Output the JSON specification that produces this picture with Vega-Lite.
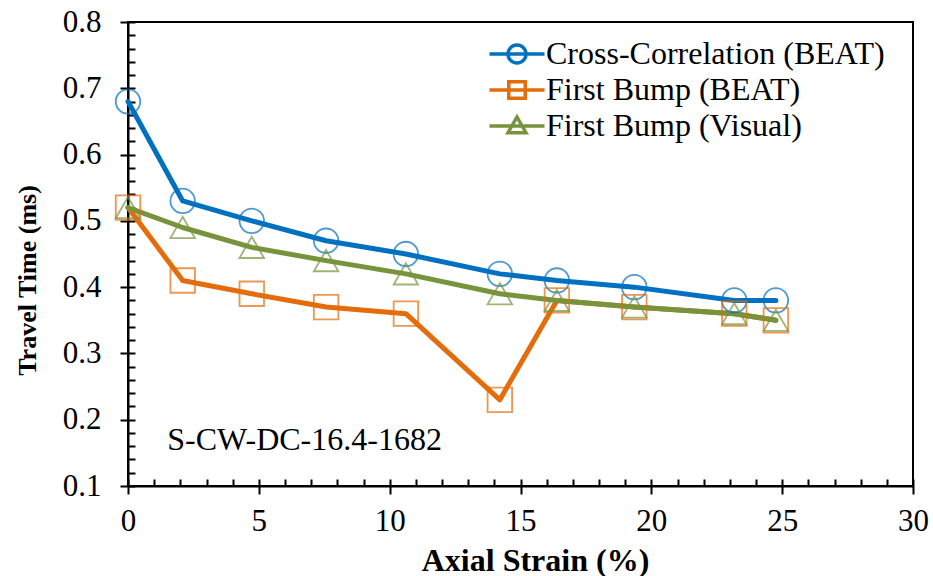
{
  "$schema": "https://vega.github.io/schema/vega-lite/v6.json",
  "width": 785,
  "height": 464,
  "autosize": "none",
  "padding": {"left": 128, "top": 22, "right": 20, "bottom": 90},
  "background": "white",
  "config": {
    "view": {"stroke": "#000000", "strokeWidth": 2},
    "font": "Liberation Serif"
  },
  "data": {
    "values": [
      {"strain": 0, "time": 0.68, "series": "Cross-Correlation (BEAT)"},
      {"strain": 2.09, "time": 0.53, "series": "Cross-Correlation (BEAT)"},
      {"strain": 4.73, "time": 0.50, "series": "Cross-Correlation (BEAT)"},
      {"strain": 7.57, "time": 0.47, "series": "Cross-Correlation (BEAT)"},
      {"strain": 10.62, "time": 0.45, "series": "Cross-Correlation (BEAT)"},
      {"strain": 14.21, "time": 0.42, "series": "Cross-Correlation (BEAT)"},
      {"strain": 16.39, "time": 0.41, "series": "Cross-Correlation (BEAT)"},
      {"strain": 19.35, "time": 0.40, "series": "Cross-Correlation (BEAT)"},
      {"strain": 23.17, "time": 0.38, "series": "Cross-Correlation (BEAT)"},
      {"strain": 24.76, "time": 0.38, "series": "Cross-Correlation (BEAT)"},
      {"strain": 0, "time": 0.52, "series": "First Bump (BEAT)"},
      {"strain": 2.09, "time": 0.41, "series": "First Bump (BEAT)"},
      {"strain": 4.73, "time": 0.39, "series": "First Bump (BEAT)"},
      {"strain": 7.57, "time": 0.37, "series": "First Bump (BEAT)"},
      {"strain": 10.62, "time": 0.36, "series": "First Bump (BEAT)"},
      {"strain": 14.21, "time": 0.23, "series": "First Bump (BEAT)"},
      {"strain": 16.39, "time": 0.38, "series": "First Bump (BEAT)"},
      {"strain": 19.35, "time": 0.37, "series": "First Bump (BEAT)"},
      {"strain": 23.17, "time": 0.36, "series": "First Bump (BEAT)"},
      {"strain": 24.76, "time": 0.35, "series": "First Bump (BEAT)"},
      {"strain": 0, "time": 0.52, "series": "First Bump (Visual)"},
      {"strain": 2.09, "time": 0.49, "series": "First Bump (Visual)"},
      {"strain": 4.73, "time": 0.46, "series": "First Bump (Visual)"},
      {"strain": 7.57, "time": 0.44, "series": "First Bump (Visual)"},
      {"strain": 10.62, "time": 0.42, "series": "First Bump (Visual)"},
      {"strain": 14.21, "time": 0.39, "series": "First Bump (Visual)"},
      {"strain": 16.39, "time": 0.38, "series": "First Bump (Visual)"},
      {"strain": 19.35, "time": 0.37, "series": "First Bump (Visual)"},
      {"strain": 23.17, "time": 0.36, "series": "First Bump (Visual)"},
      {"strain": 24.76, "time": 0.35, "series": "First Bump (Visual)"}
    ]
  },
  "resolve": {"axis": {"x": "independent", "y": "independent"}},
  "layer": [
    {
      "mark": {"type": "line", "strokeWidth": 5, "strokeCap": "round", "strokeJoin": "round"},
      "encoding": {
        "x": {
          "field": "strain", "type": "quantitative",
          "scale": {"domain": [0, 30], "nice": false, "zero": false},
          "axis": {
            "orient": "bottom", "values": [0, 5, 10, 15, 20, 25, 30], "format": "d",
            "labelFlush": false, "labelOverlap": false,
            "grid": false, "domain": true, "domainColor": "#000", "domainWidth": 2,
            "ticks": true, "tickSize": 8, "tickColor": "#000", "tickWidth": 2,
            "labelFont": "Liberation Serif", "labelFontSize": 31, "labelColor": "#000", "labelPadding": 12,
            "title": "Axial Strain (%)", "titleFont": "Liberation Serif", "titleFontSize": 32, "titleFontWeight": "bold", "titleColor": "#000",
            "titleX": 407, "titleY": 74, "titleAlign": "center", "titleBaseline": "middle"
          }
        },
        "y": {
          "field": "time", "type": "quantitative",
          "scale": {"domain": [0.1, 0.8], "nice": false, "zero": false},
          "axis": {
            "orient": "left", "values": [0.1, 0.2, 0.3, 0.4, 0.5, 0.6, 0.7, 0.8], "format": ".1f",
            "labelFlush": false, "labelOverlap": false,
            "grid": false, "domain": true, "domainColor": "#000", "domainWidth": 2,
            "ticks": true, "tickSize": 8, "tickColor": "#000", "tickWidth": 2,
            "labelFont": "Liberation Serif", "labelFontSize": 31, "labelColor": "#000", "labelPadding": 19,
            "title": "Travel Time (ms)", "titleFont": "Liberation Serif", "titleFontSize": 26, "titleFontWeight": "bold", "titleColor": "#000",
            "titleX": -101, "titleY": 258, "titleAlign": "center", "titleBaseline": "middle", "titleAngle": -90
          }
        },
        "color": {
          "field": "series", "type": "nominal",
          "scale": {"domain": ["Cross-Correlation (BEAT)", "First Bump (BEAT)", "First Bump (Visual)"], "range": ["#0070C0", "#E46C0A", "#77933C"]},
          "legend": {
            "title": null, "orient": "none", "legendX": 373, "legendY": 16,
            "labelFont": "Liberation Serif", "labelFontSize": 32, "labelColor": "#000", "labelOffset": 13, "labelLimit": 600,
            "symbolSize": 225, "symbolStrokeWidth": 4, "rowPadding": 4, "padding": 0,
            "encode": {
              "symbols": {
                "update": {
                  "shape": {"signal": "datum.value === 'Cross-Correlation (BEAT)' ? 'M-3.67,0H3.67M-1.2,0A1.2,1.2 0 1,0 1.2,0A1.2,1.2 0 1,0 -1.2,0Z' : datum.value === 'First Bump (BEAT)' ? 'M-3.67,0H3.67M-1.1,-1.1H1.1V1.1H-1.1Z' : 'M-3.67,0H3.67M0,-1.2L1.2,0.9L-1.2,0.9Z'"},
                  "fill": {"value": "transparent"},
                  "strokeWidth": {"value": 3.5}
                }
              }
            }
          }
        }
      }
    },
    {
      "transform": [{"filter": "datum.series === 'Cross-Correlation (BEAT)'"}],
      "mark": {"type": "point", "shape": "circle", "filled": false, "size": 600, "strokeWidth": 1.8},
      "encoding": {
        "x": {
          "field": "strain", "type": "quantitative",
          "axis": {
            "orient": "bottom", "values": [0,1,2,3,4,5,6,7,8,9,10,11,12,13,14,15,16,17,18,19,20,21,22,23,24,25,26,27,28,29,30],
            "grid": false, "domain": false, "labels": false, "title": null,
            "ticks": true, "tickSize": -7, "tickColor": "#000", "tickWidth": 2
          }
        },
        "y": {
          "field": "time", "type": "quantitative",
          "axis": {
            "orient": "left", "values": [0.1,0.12,0.14,0.16,0.18,0.2,0.22,0.24,0.26,0.28,0.3,0.32,0.34,0.36,0.38,0.4,0.42,0.44,0.46,0.48,0.5,0.52,0.54,0.56,0.58,0.6,0.62,0.64,0.66,0.68,0.7,0.72,0.74,0.76,0.78,0.8],
            "grid": false, "domain": false, "labels": false, "title": null,
            "ticks": true, "tickSize": -7, "tickColor": "#000", "tickWidth": 2
          }
        },
        "color": {"field": "series", "type": "nominal", "legend": null}
      }
    },
    {
      "transform": [{"filter": "datum.series === 'First Bump (BEAT)'"}],
      "mark": {"type": "point", "shape": "square", "filled": false, "size": 600, "strokeWidth": 1.8},
      "encoding": {
        "x": {"field": "strain", "type": "quantitative", "axis": null},
        "y": {"field": "time", "type": "quantitative", "axis": null},
        "color": {"field": "series", "type": "nominal", "legend": null}
      }
    },
    {
      "transform": [{"filter": "datum.series === 'First Bump (Visual)'"}],
      "mark": {"type": "point", "shape": "triangle-up", "filled": false, "size": 600, "strokeWidth": 1.8},
      "encoding": {
        "x": {"field": "strain", "type": "quantitative", "axis": null},
        "y": {"field": "time", "type": "quantitative", "axis": null},
        "color": {"field": "series", "type": "nominal", "legend": null}
      }
    },
    {
      "data": {"values": [{"label": "S-CW-DC-16.4-1682"}]},
      "mark": {"type": "text", "align": "left", "baseline": "middle", "font": "Liberation Serif", "fontSize": 32, "color": "#000"},
      "encoding": {
        "x": {"datum": 1.5, "type": "quantitative", "axis": null},
        "y": {"datum": 0.17, "type": "quantitative", "axis": null},
        "text": {"field": "label"}
      }
    }
  ]
}
